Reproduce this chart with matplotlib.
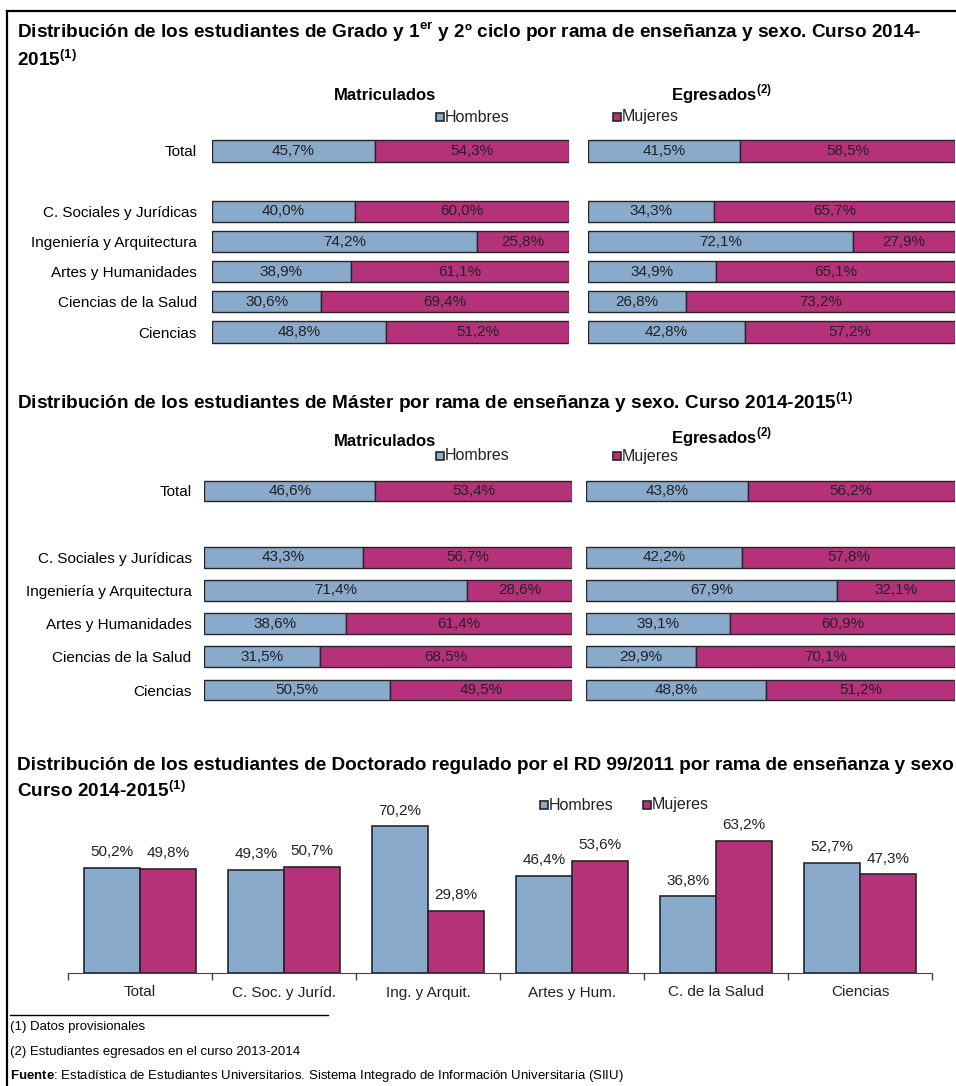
import matplotlib
matplotlib.use('Agg')
import matplotlib.pyplot as plt
from matplotlib.lines import Line2D

# Fuentes tipo Arial
plt.rcParams['font.family'] = 'Liberation Sans'
plt.rcParams['mathtext.fontset'] = 'custom'
plt.rcParams['mathtext.rm'] = 'Liberation Sans'
plt.rcParams['mathtext.bf'] = 'Liberation Sans:bold'

W, H = 956, 1086
AZUL = '#8aaacb'
MAGENTA = '#b5327b'
BORDE = '#262626'
TEXTO = '#222222'

# Datos
ramas = ['Total', 'C. Sociales y Jurídicas', 'Ingeniería y Arquitectura',
         'Artes y Humanidades', 'Ciencias de la Salud', 'Ciencias']
ramas_cortas = ['Total', 'C. Soc. y Juríd.', 'Ing. y Arquit.',
                'Artes y Hum.', 'C. de la Salud', 'Ciencias']

grado_matric_h = [45.7, 40.0, 74.2, 38.9, 30.6, 48.8]
grado_matric_m = [54.3, 60.0, 25.8, 61.1, 69.4, 51.2]
grado_egres_h = [41.5, 34.3, 72.1, 34.9, 26.8, 42.8]
grado_egres_m = [58.5, 65.7, 27.9, 65.1, 73.2, 57.2]

master_matric_h = [46.6, 43.3, 71.4, 38.6, 31.5, 50.5]
master_matric_m = [53.4, 56.7, 28.6, 61.4, 68.5, 49.5]
master_egres_h = [43.8, 42.2, 67.9, 39.1, 29.9, 48.8]
master_egres_m = [56.2, 57.8, 32.1, 60.9, 70.1, 51.2]

doct_h = [50.2, 49.3, 70.2, 46.4, 36.8, 52.7]
doct_m = [49.8, 50.7, 29.8, 53.6, 63.2, 47.3]

# Total separado del resto por un hueco
pos_filas = [0, 2, 3, 4, 5, 6]


def fmt(v):
    return f'{v:.1f}%'.replace('.', ',')


def fx(x):
    return x / W


def fy(y):
    return 1 - y / H


def eje(x0, y0, x1, y1):
    return fig.add_axes([x0 / W, 1 - y1 / H, (x1 - x0) / W, (y1 - y0) / H])


def titulo(x, y, txt, size=13.7, **kw):
    # y es la linea base en pixeles
    fig.text(fx(x), fy(y), txt, fontsize=size, fontweight='bold', va='baseline', **kw)


def barras_apiladas(ax, h, m, alto, etiquetas=False, pad=10):
    ax.barh(pos_filas, h, height=alto, color=AZUL, edgecolor=BORDE, linewidth=1)
    ax.barh(pos_filas, m, left=h, height=alto, color=MAGENTA, edgecolor=BORDE, linewidth=1)
    for y, a, b in zip(pos_filas, h, m):
        ax.text(a / 2, y, fmt(a), ha='center', va='center', fontsize=11, color=TEXTO)
        ax.text(a + b / 2, y, fmt(b), ha='center', va='center', fontsize=11, color=TEXTO)
    ax.set_xlim(0, 100)
    ax.set_ylim(6.5, -0.5)
    for s in ax.spines.values():
        s.set_visible(False)
    ax.set_xticks([])
    if etiquetas:
        ax.set_yticks(pos_filas, ramas, fontsize=11)
        ax.tick_params(axis='y', length=0, pad=pad)
    else:
        ax.set_yticks([])


def leyenda(x_h, x_m, y):
    for x, col, txt in [(x_h, AZUL, 'Hombres'), (x_m, MAGENTA, 'Mujeres')]:
        fig.add_artist(Line2D([fx(x)], [fy(y)], marker='s', markersize=5.5,
                              markerfacecolor=col, markeredgecolor=BORDE,
                              markeredgewidth=1.2, transform=fig.transFigure))
        fig.text(fx(x + 5), fy(y), txt, ha='left', va='center', fontsize=11.5, color=TEXTO)


fig = plt.figure(figsize=(W / 100, H / 100), dpi=100)

# Marco
fig.add_artist(Line2D([fx(7), fx(7)], [fy(11), 0], color='black', lw=1.6, transform=fig.transFigure))
fig.add_artist(Line2D([fx(7), 1], [fy(11), fy(11)], color='black', lw=1.6, transform=fig.transFigure))

# 1. Grado y 1er y 2º ciclo
titulo(17, 38, 'Distribución de los estudiantes de Grado y 1$^{\\mathbf{er}}$ y 2º ciclo '
       'por rama de enseñanza y sexo. Curso 2014-')
titulo(17, 66, '2015$^{\\mathbf{(1)}}$')
titulo(385, 100, 'Matriculados', size=12, ha='center')
titulo(671, 100, 'Egresados$^{\\mathbf{(2)}}$', size=12, ha='left')
leyenda(440, 617, 117)

alto1 = 30.17
ax = eje(212, 151 - alto1 / 2, 569, 332 + alto1 / 2)
barras_apiladas(ax, grado_matric_h, grado_matric_m, 0.7, etiquetas=True, pad=11)
ax = eje(588, 151 - alto1 / 2, 955, 332 + alto1 / 2)
barras_apiladas(ax, grado_egres_h, grado_egres_m, 0.7)

# 2. Máster
titulo(17, 409, 'Distribución de los estudiantes de Máster por rama de enseñanza y sexo. '
       'Curso 2014-2015$^{\\mathbf{(1)}}$')
titulo(385, 446, 'Matriculados', size=12, ha='center')
titulo(671, 443, 'Egresados$^{\\mathbf{(2)}}$', size=12, ha='left')
leyenda(440, 617, 456)

alto2 = 33.17
ax = eje(204, 491 - alto2 / 2, 572, 690 + alto2 / 2)
barras_apiladas(ax, master_matric_h, master_matric_m, 0.63, etiquetas=True, pad=9)
ax = eje(586, 491 - alto2 / 2, 955, 690 + alto2 / 2)
barras_apiladas(ax, master_egres_h, master_egres_m, 0.63)

# 3. Doctorado
titulo(17, 770, 'Distribución de los estudiantes de Doctorado regulado por el RD 99/2011 '
       'por rama de enseñanza y sexo')
titulo(17, 797, 'Curso 2014-2015$^{\\mathbf{(1)}}$')
leyenda(544, 647, 805)

ax = eje(68, 800, 932, 973)
x = range(len(ramas_cortas))
ancho = 0.39
b1 = ax.bar([i - ancho / 2 for i in x], doct_h, width=ancho, color=AZUL, edgecolor=BORDE, linewidth=1.2)
b2 = ax.bar([i + ancho / 2 for i in x], doct_m, width=ancho, color=MAGENTA, edgecolor=BORDE, linewidth=1.2)
for barras, vals in [(b1, doct_h), (b2, doct_m)]:
    for r, v in zip(barras, vals):
        ax.annotate(fmt(v), (r.get_x() + r.get_width() / 2, v), xytext=(0, 6),
                    textcoords='offset points', ha='center', va='bottom', fontsize=11, color=TEXTO)
ax.set_xlim(-0.5, 5.5)
ax.set_ylim(0, 173 / 2.096)
ax.set_yticks([])
ax.set_xticks(list(x), ramas_cortas, fontsize=11)
ax.set_xticks([i - 0.5 for i in range(7)], minor=True)
ax.tick_params(axis='x', which='major', length=0, pad=9, colors=TEXTO)
ax.tick_params(axis='x', which='minor', length=5, width=1, color='#444444')
for s in ['top', 'right', 'left']:
    ax.spines[s].set_visible(False)
ax.spines['bottom'].set_color('#444444')

# Notas
fig.add_artist(Line2D([fx(10), fx(328)], [fy(1015), fy(1015)], color='black', lw=1, transform=fig.transFigure))
fig.text(fx(10), fy(1027), '(1) Datos provisionales', fontsize=9.5, va='center')
fig.text(fx(10), fy(1052), '(2) Estudiantes egresados en el curso 2013-2014', fontsize=9.5, va='center')
fig.text(fx(10), fy(1076), '$\\mathbf{Fuente}$: Estadística de Estudiantes Universitarios. Sistema Integrado '
         'de Información Universitaria (SIIU)', fontsize=9.5, va='center')

fig.savefig('out.png', dpi=100)
